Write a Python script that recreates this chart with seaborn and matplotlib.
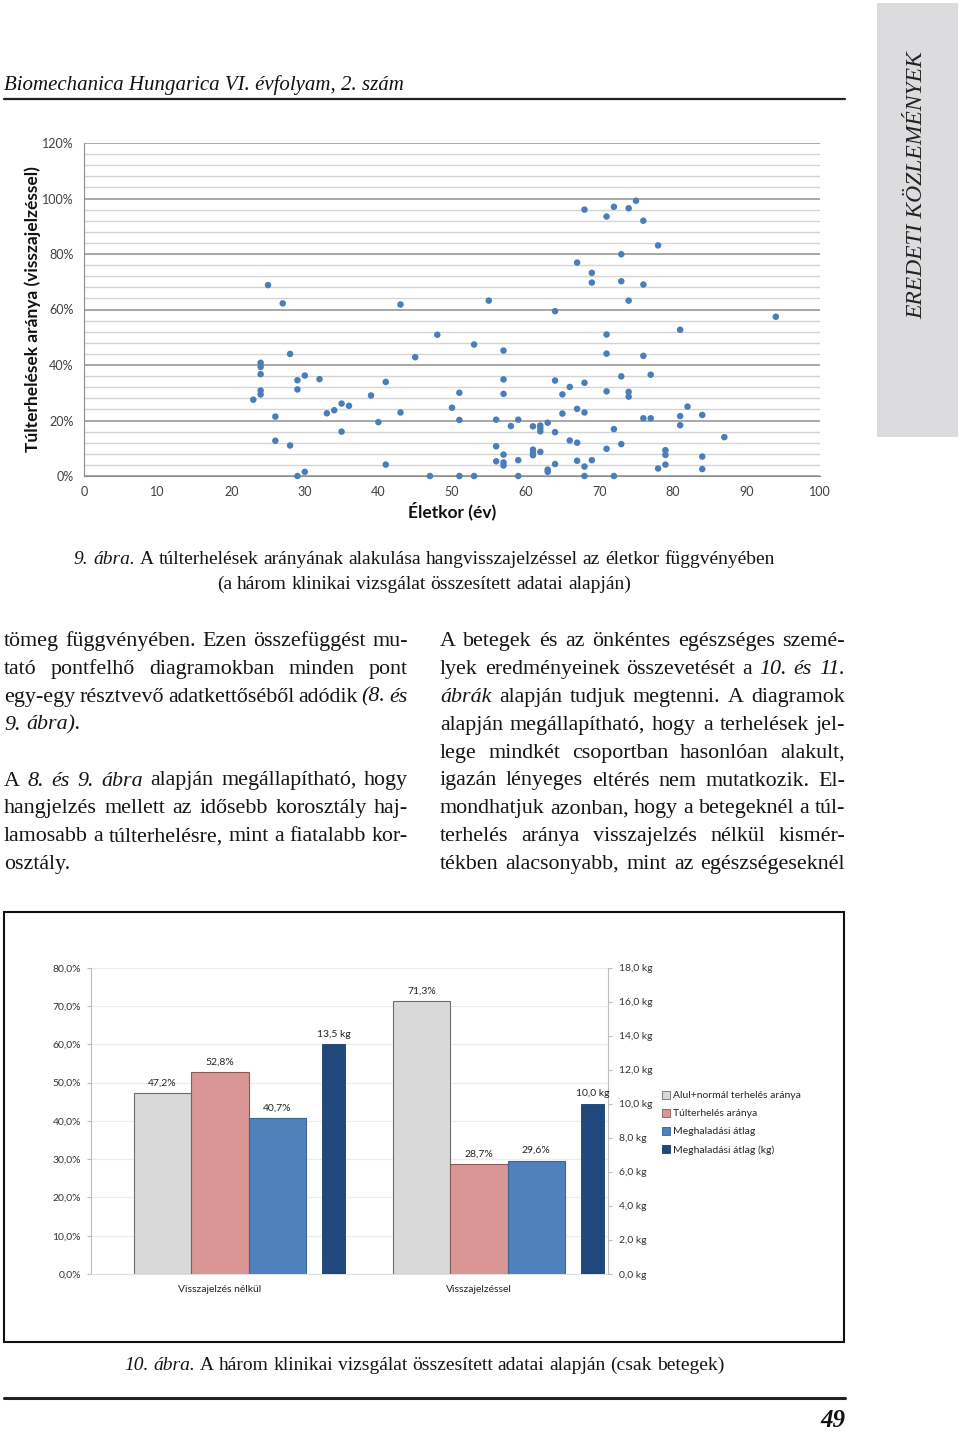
import numpy as np
import pandas as pd
import matplotlib
matplotlib.use("Agg")
import matplotlib.pyplot as plt
import seaborn as sns
from matplotlib.patches import Rectangle
from matplotlib.lines import Line2D

W, H = 960, 1431
SERIF = "Liberation Serif"
SANS = "Lato"

# 9. abra: eletkor (ev) es tulterhelesek aranya (%), pontonkent leolvasva
ages = [25, 27, 28, 24, 24, 24, 29, 30, 32, 29, 24, 24, 23, 26, 33, 34, 26, 28, 29, 30,
        68, 67, 43, 55, 64, 48, 53, 57, 45, 41, 57, 64, 68, 66, 39, 51, 57, 65, 35, 36,
        50, 43, 67, 65, 68, 40, 51, 56, 59, 58, 61, 62, 62, 62, 63, 64, 35, 66, 67, 56,
        61, 61, 61, 62, 57, 41, 56, 57, 57, 59, 63, 63, 64, 67, 68, 47, 51, 53, 59, 68,
        72, 74, 75, 71, 76, 78, 73, 69, 69, 73, 76, 74, 94, 81, 71, 71, 76, 73, 77, 71,
        74, 74, 82, 76, 77, 81, 84, 81, 72, 87, 73, 71, 79, 79, 84, 69, 78, 79, 84, 72]
ratios = [68.8, 62.2, 44.0, 40.8, 39.3, 36.7, 34.5, 36.2, 34.9, 31.2, 30.8, 29.4, 27.5, 21.4, 22.6, 23.7, 12.7, 11.0, 0.0, 1.5,
          96.0, 76.9, 61.8, 63.2, 59.4, 50.9, 47.4, 45.2, 42.8, 33.9, 34.8, 34.4, 33.6, 32.1, 29.0, 30.0, 29.6, 29.4, 26.1, 25.3,
          24.6, 22.9, 24.2, 22.5, 22.9, 19.4, 20.2, 20.3, 20.3, 18.0, 17.9, 18.2, 17.2, 16.1, 19.2, 15.8, 16.0, 12.8, 12.0, 10.7,
          9.5, 8.4, 7.5, 8.7, 7.7, 4.1, 5.3, 4.9, 3.8, 5.7, 2.3, 1.5, 4.3, 5.5, 3.4, 0.0, 0.0, 0.0, 0.0, 0.0,
          97.0, 96.5, 99.2, 93.5, 92.0, 83.1, 79.9, 73.2, 69.7, 70.2, 69.0, 63.2, 57.4, 52.7, 51.0, 44.1, 43.3, 35.9, 36.5, 30.5,
          30.3, 28.6, 25.0, 20.8, 20.8, 21.6, 22.0, 18.3, 16.9, 14.0, 11.5, 9.8, 9.3, 7.6, 7.0, 5.7, 2.7, 4.1, 2.5, 0.0]

# 10. abra
groups = ["Visszajelzés nélkül", "Visszajelzéssel"]
series = ["Alul+normál terhelés aránya", "Túlterhelés aránya", "Meghaladási átlag"]
kg_series = "Meghaladási átlag (kg)"
normal_pct = [47.2, 71.3]
over_pct = [52.8, 28.7]
exceed_pct = [40.7, 29.6]
exceed_kg = [13.5, 10.0]

# szoveg
header = "Biomechanica Hungarica VI. évfolyam, 2. szám"
side_title = "EREDETI KÖZLEMÉNYEK"
cap9 = ["_9. _ábra. A túlterhelések arányának alakulása hangvisszajelzéssel az életkor függvényében",
        "(a három klinikai vizsgálat összesített adatai alapján)"]
cap10 = "_10. _ábra. A három klinikai vizsgálat összesített adatai alapján (csak betegek)"
left_col = ["tömeg függvényében. Ezen összefüggést mu-",
            "tató pontfelhő diagramokban minden pont",
            "egy-egy résztvevő adatkettőséből adódik _(8. _és",
            "_9. _ábra).",
            "",
            "A _8. _és _9. _ábra alapján megállapítható, hogy",
            "hangjelzés mellett az idősebb korosztály haj-",
            "lamosabb a túlterhelésre, mint a fiatalabb kor-",
            "osztály."]
left_last = [3, 8]
right_col = ["A betegek és az önkéntes egészséges szemé-",
             "lyek eredményeinek összevetését a _10. _és _11.",
             "_ábrák alapján tudjuk megtenni. A diagramok",
             "alapján megállapítható, hogy a terhelések jel-",
             "lege mindkét csoportban hasonlóan alakult,",
             "igazán lényeges eltérés nem mutatkozik. El-",
             "mondhatjuk azonban, hogy a betegeknél a túl-",
             "terhelés aránya visszajelzés nélkül kismér-",
             "tékben alacsonyabb, mint az egészségeseknél"]

sns.set_style("white")
plt.rcParams["font.family"] = [SANS, "DejaVu Sans"]

fig = plt.figure(figsize=(W / 100, H / 100), dpi=100)
rend = fig.canvas.get_renderer()


def box(x0, y0, x1, y1):
    return [x0 / W, 1 - y1 / H, (x1 - x0) / W, (y1 - y0) / H]


def words_line(s, x0, x1, yb, size, mode="justify", family=SERIF, weight="normal"):
    toks = [(t[1:], True) if t.startswith("_") else (t, False) for t in s.split()]
    objs, widths = [], []
    for t, it in toks:
        o = fig.text(0, 0, t, fontsize=size, family=family, weight=weight,
                     style="italic" if it else "normal", va="baseline", color="#151515")
        widths.append(o.get_window_extent(rend).width)
        objs.append(o)
    space = size * 100 / 72 * 0.25
    total = sum(widths)
    if mode == "justify" and len(toks) > 1:
        gap = max((x1 - x0 - total) / (len(toks) - 1), space * 0.6)
    else:
        gap = space
    if mode == "center":
        x = (x0 + x1) / 2 - (total + gap * (len(toks) - 1)) / 2
    else:
        x = x0
    for o, wd in zip(objs, widths):
        o.set_position((x / W, 1 - yb / H))
        x += wd + gap


# fejlec
fig.text(4 / W, 1 - 90 / H, header, fontsize=15, family=SERIF, style="italic", va="baseline", color="#111111")
fig.add_artist(Line2D([4 / W, 845 / W], [1 - 99 / H] * 2, color="#222222", lw=1.6))
fig.add_artist(Rectangle((877 / W, 1 - 437 / H), 81 / W, 434 / H, facecolor="#dcdcde", edgecolor="none"))
fig.text(917 / W, 1 - 185 / H, side_title, rotation=90, fontsize=17, family=SERIF, style="italic",
         ha="center", va="center", color="#222222")

# 9. abra - pontfelho
ax = fig.add_axes(box(84, 143, 820, 476))
sns.scatterplot(x=ages, y=ratios, ax=ax, color="#4a7ebb", s=22, edgecolor="none", zorder=3, clip_on=False)
ax.set_xlim(0, 100)
ax.set_ylim(0, 120)
ax.set_xticks(range(0, 101, 10))
ax.set_yticks(range(0, 121, 20))
ax.set_yticks(range(0, 121, 4), minor=True)
ax.set_yticklabels([f"{v}%" for v in range(0, 121, 20)])
ax.grid(which="minor", axis="y", color="#d4d4d4", lw=1.0)
ax.grid(which="major", axis="y", color="#9a9a9a", lw=1.2)
ax.set_axisbelow(True)
for sp in ["top", "right"]:
    ax.spines[sp].set_visible(False)
for sp in ["left", "bottom"]:
    ax.spines[sp].set_color("#8c8c8c")
ax.tick_params(axis="both", which="major", labelsize=9, labelcolor="#404040", color="#8c8c8c",
               length=4, direction="out")
ax.tick_params(axis="y", which="minor", length=0)
ax.set_xlabel("Életkor (év)", fontsize=12.5, weight="bold", color="#111111", labelpad=2)
ax.set_ylabel("Túlterhelések aránya (visszajelzéssel)", fontsize=12.5, weight="bold", color="#111111",
              labelpad=0.5)

for i, s in enumerate(cap9):
    words_line(s, 0, 848, 564 + i * 25, 14, mode="center")

# ket hasab
for i, s in enumerate(left_col):
    if s:
        words_line(s, 4, 408, 646 + i * 27.9, 15.8, mode="left" if i in left_last else "justify")
for i, s in enumerate(right_col):
    words_line(s, 440, 845, 646 + i * 27.9, 15.8)

# 10. abra - oszlopdiagram
fig.add_artist(Rectangle((4 / W, 1 - 1342 / H), 840 / W, 430 / H, facecolor="none", edgecolor="#111111", lw=1.5))
bx = fig.add_axes(box(90.7, 967.7, 608.3, 1274))
df = pd.DataFrame({
    "group": groups * 3,
    "series": [series[0]] * 2 + [series[1]] * 2 + [series[2]] * 2,
    "value": normal_pct + over_pct + exceed_pct,
})
colors = ["#d9d9d9", "#d99694", "#4f81bd"]
edges = ["#6d6d6d", "#8c5a59", "#3a6596"]
sns.barplot(data=df, x="group", y="value", hue="series", palette=colors, width=0.666,
            saturation=1, errorbar=None, legend=False, ax=bx, linewidth=0.8, zorder=2)
for cont, ec in zip(bx.containers, edges):
    for p in cont:
        p.set_edgecolor(ec)
    bx.bar_label(cont, labels=[f"{v:.1f}%".replace(".", ",") for v in cont.datavalues],
                 padding=4, fontsize=7.5, color="#222222")
bx.set_ylim(0, 80)
bx.set_yticks(range(0, 81, 10))
bx.set_yticklabels([f"{v},0%" for v in range(0, 81, 10)])
bx.yaxis.grid(True, color="#ececec", lw=0.9)
bx.set_axisbelow(True)
bx.set_xlabel("")
bx.set_ylabel("")
for sp in ["top", "right"]:
    bx.spines[sp].set_visible(False)
bx.spines["left"].set_color("#bdbdbd")
bx.spines["bottom"].set_color("#e0e0e0")
bx.tick_params(axis="y", labelsize=7.5, labelcolor="#333333", color="#bdbdbd", length=3, pad=4)
bx.tick_params(axis="x", labelsize=7.5, labelcolor="#222222", length=0, pad=8)

bx2 = bx.twinx()
kb = bx2.bar(np.arange(len(groups)) + 0.438, exceed_kg, width=0.089, color="#1f497d",
             edgecolor="#1a3d69", lw=0.6, zorder=2)
bx2.bar_label(kb, labels=[f"{v:.1f} kg".replace(".", ",") for v in exceed_kg], padding=4,
              fontsize=7.5, color="#222222")
bx2.set_ylim(0, 18)
bx2.set_yticks(range(0, 19, 2))
bx2.set_yticklabels([f"{v},0 kg" for v in range(0, 19, 2)])
for sp in ["top", "left", "bottom"]:
    bx2.spines[sp].set_visible(False)
bx2.spines["right"].set_color("#bdbdbd")
bx2.tick_params(axis="y", labelsize=7.5, labelcolor="#333333", color="#bdbdbd", length=3, pad=5)
bx.set_xlim(-0.5, 1.5)

handles = [Rectangle((0, 0), 1, 1, facecolor=c, edgecolor=e, lw=0.6) for c, e in zip(colors, edges)]
handles.append(Rectangle((0, 0), 1, 1, facecolor="#1f497d", edgecolor="#1a3d69", lw=0.6))
fig.legend(handles, series + [kg_series], loc="upper left", bbox_to_anchor=(662 / W, 1 - 1091 / H),
           frameon=False, fontsize=7.5, handlelength=0.75, handleheight=0.75, handletextpad=0.35,
           labelspacing=0.82, borderaxespad=0, borderpad=0)

words_line(cap10, 0, 848, 1370, 14, mode="center")
fig.add_artist(Line2D([4 / W, 845 / W], [1 - 1398 / H] * 2, color="#222222", lw=2.2))
fig.text(845 / W, 1 - 1427 / H, "49", fontsize=18, family=SERIF, weight="bold", style="italic",
         ha="right", va="baseline", color="#111111")

fig.savefig("out.png", dpi=100)
